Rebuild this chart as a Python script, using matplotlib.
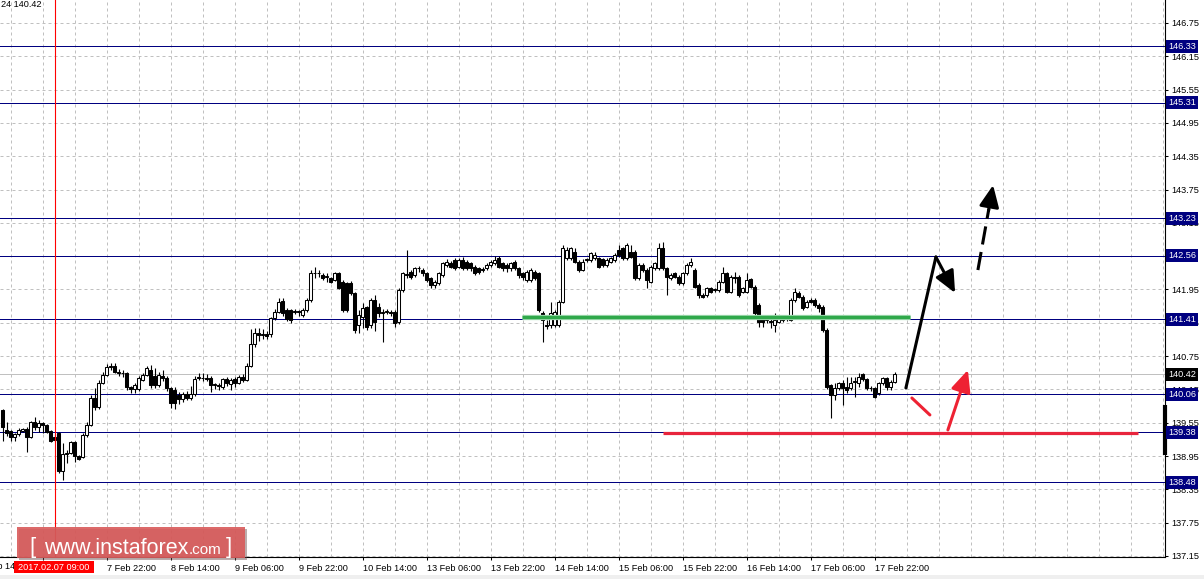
import matplotlib
matplotlib.use('Agg')
import matplotlib.pyplot as plt
import matplotlib.transforms as mtransforms
from matplotlib.patches import Rectangle
import numpy as np

plt.rcParams['font.family'] = ['Liberation Sans', 'DejaVu Sans']

# ---------------- data (H1 candles, index 0 = first visible hour) ----------------
open_ = [
    139.78, 139.42, 139.40, 139.29, 139.34, 139.40, 139.43, 139.29, 139.56, 139.47,
    139.54, 139.50, 139.40, 139.30, 139.36, 138.68, 138.99, 139.00, 139.20, 138.95,
    138.93, 139.33, 139.51, 140.00, 139.84, 140.26, 140.41, 140.55, 140.57, 140.47,
    140.44, 140.44, 140.20, 140.16, 140.16, 140.32, 140.41, 140.50, 140.40, 140.23,
    140.40, 140.36, 140.18, 140.14, 140.05, 139.97, 140.07, 139.99, 140.07, 140.36,
    140.36, 140.36, 140.36, 140.23, 140.22, 140.20, 140.33, 140.24, 140.33, 140.27,
    140.38, 140.32, 140.58, 140.97, 141.16, 141.13, 141.14, 141.14, 141.43, 141.55,
    141.74, 141.58, 141.58, 141.55, 141.55, 141.49, 141.58, 141.76, 142.24, 142.25,
    142.21, 142.18, 142.15, 142.12, 142.25, 142.09, 142.06, 142.06, 141.88, 141.31,
    141.46, 141.64, 141.31, 141.76, 141.64, 141.52, 141.55, 141.55, 141.55, 141.36,
    141.94, 142.22, 142.27, 142.21, 142.33, 142.30, 142.24, 142.15, 142.03, 142.06,
    142.21, 142.39, 142.42, 142.48, 142.36, 142.48, 142.45, 142.42, 142.36, 142.33,
    142.30, 142.33, 142.39, 142.42, 142.51, 142.42, 142.39, 142.33, 142.45, 142.33,
    142.24, 142.12, 142.12, 142.27, 142.24, 141.53, 141.31, 141.31, 141.31, 141.31,
    141.73, 142.51, 142.51, 142.63, 142.45, 142.30, 142.48, 142.48, 142.51, 142.51,
    142.49, 142.39, 142.45, 142.48, 142.66, 142.69, 142.51, 142.63, 142.63, 142.15,
    142.39, 142.30, 142.09, 142.33, 142.33, 142.69, 142.33, 142.15, 142.24, 142.18,
    142.06, 142.24, 142.39, 142.30, 142.03, 141.85, 141.85, 141.97, 141.94, 141.94,
    142.09, 142.24, 141.91, 142.18, 142.18, 141.91, 141.91, 142.13, 142.00, 141.67,
    141.43, 141.40, 141.37, 141.31, 141.37, 141.40, 141.43, 141.40, 141.76, 141.88,
    141.82, 141.64, 141.76, 141.76, 141.67, 141.64, 141.22, 140.23, 140.05, 140.17,
    140.26, 140.20, 140.17, 140.29, 140.26, 140.43, 140.34, 140.17, 140.17, 140.08,
    140.26, 140.35, 140.20, 140.29,
]
high = [
    139.80, 139.56, 139.42, 139.36, 139.45, 139.45, 139.47, 139.58, 139.65, 139.60,
    139.56, 139.52, 139.42, 139.34, 139.38, 139.18, 139.06, 139.22, 139.22, 138.97,
    139.36, 139.56, 140.05, 140.17, 140.32, 140.46, 140.60, 140.62, 140.62, 140.52,
    140.50, 140.46, 140.22, 140.26, 140.40, 140.45, 140.57, 140.59, 140.53, 140.46,
    140.50, 140.40, 140.20, 140.20, 140.10, 140.10, 140.12, 140.22, 140.39, 140.45,
    140.45, 140.42, 140.40, 140.27, 140.26, 140.36, 140.38, 140.35, 140.37, 140.41,
    140.42, 140.62, 141.23, 141.25, 141.25, 141.24, 141.20, 141.46, 141.60, 141.80,
    141.80, 141.62, 141.60, 141.60, 141.58, 141.62, 141.80, 142.30, 142.36, 142.30,
    142.24, 142.24, 142.18, 142.27, 142.27, 142.12, 142.09, 142.10, 141.90, 141.58,
    141.70, 141.66, 141.80, 141.85, 141.70, 141.60, 141.60, 141.58, 141.58, 141.97,
    142.27, 142.66, 142.30, 142.36, 142.38, 142.34, 142.27, 142.18, 142.12, 142.27,
    142.45, 142.50, 142.47, 142.52, 142.52, 142.53, 142.48, 142.45, 142.39, 142.36,
    142.36, 142.42, 142.48, 142.55, 142.56, 142.45, 142.42, 142.45, 142.48, 142.36,
    142.27, 142.30, 142.33, 142.30, 142.27, 141.56, 141.40, 141.72, 141.58, 141.76,
    142.75, 142.72, 142.72, 142.70, 142.48, 142.50, 142.52, 142.63, 142.62, 142.54,
    142.52, 142.51, 142.54, 142.61, 142.75, 142.72, 142.78, 142.75, 142.66, 142.42,
    142.42, 142.33, 142.39, 142.45, 142.78, 142.80, 142.36, 142.24, 142.27, 142.21,
    142.27, 142.42, 142.51, 142.33, 142.06, 141.88, 142.00, 142.00, 141.98, 142.12,
    142.36, 142.27, 142.21, 142.27, 142.21, 142.00, 142.24, 142.16, 142.03, 141.70,
    141.46, 141.45, 141.42, 141.52, 141.46, 141.46, 141.47, 141.80, 141.97, 141.92,
    141.85, 141.76, 141.80, 141.79, 141.70, 141.67, 141.25, 140.25, 140.26, 140.29,
    140.32, 140.38, 140.38, 140.38, 140.44, 140.45, 140.36, 140.21, 140.20, 140.29,
    140.38, 140.37, 140.32, 140.46,
]
low = [
    139.22, 139.31, 139.22, 139.22, 139.31, 139.38, 139.02, 139.28, 139.42, 139.38,
    139.36, 139.36, 139.20, 139.20, 138.64, 138.52, 138.83, 138.98, 138.85, 138.88,
    138.92, 139.30, 139.49, 139.78, 139.80, 140.24, 140.39, 140.50, 140.44, 140.40,
    140.38, 140.14, 140.08, 140.08, 140.12, 140.30, 140.39, 140.17, 140.17, 140.20,
    140.30, 140.13, 139.82, 139.80, 139.88, 139.92, 139.95, 139.95, 140.03, 140.32,
    140.30, 140.30, 140.10, 140.16, 140.14, 140.15, 140.22, 140.14, 140.20, 140.24,
    140.28, 140.30, 140.55, 140.92, 141.02, 141.05, 141.06, 141.10, 141.40, 141.52,
    141.48, 141.38, 141.35, 141.50, 141.48, 141.45, 141.55, 141.73, 142.15, 142.18,
    142.12, 142.09, 142.06, 142.10, 141.95, 141.55, 141.55, 141.85, 141.16, 141.16,
    141.25, 141.22, 141.25, 141.20, 141.45, 141.01, 141.50, 141.48, 141.28, 141.33,
    141.90, 142.15, 142.14, 142.18, 142.27, 142.20, 142.09, 141.98, 141.98, 142.03,
    142.18, 142.36, 142.33, 142.30, 142.33, 142.30, 142.30, 142.28, 142.21, 142.23,
    142.27, 142.30, 142.36, 142.39, 142.33, 142.29, 142.27, 142.29, 142.30, 142.15,
    142.12, 142.09, 142.09, 142.12, 141.55, 141.01, 141.24, 141.26, 141.28, 141.28,
    141.70, 142.48, 142.48, 142.42, 142.27, 142.28, 142.44, 142.45, 142.48, 142.33,
    142.36, 142.36, 142.42, 142.45, 142.54, 142.48, 142.48, 142.51, 142.12, 142.12,
    142.27, 141.97, 142.06, 142.30, 142.30, 142.30, 141.85, 142.12, 142.15, 142.03,
    142.03, 142.21, 142.36, 141.97, 141.79, 141.79, 141.82, 141.88, 141.90, 141.91,
    142.06, 141.88, 141.88, 142.06, 141.82, 141.88, 141.88, 141.97, 141.49, 141.28,
    141.28, 141.34, 141.25, 141.19, 141.34, 141.37, 141.38, 141.38, 141.73, 141.79,
    141.58, 141.61, 141.70, 141.64, 141.55, 141.19, 140.15, 139.63, 139.96, 140.14,
    139.87, 140.08, 140.14, 140.02, 140.20, 140.31, 140.14, 140.12, 139.99, 140.05,
    140.23, 140.14, 140.14, 140.27,
]
close = [
    139.47, 139.36, 139.29, 139.34, 139.41, 139.43, 139.29, 139.56, 139.47, 139.54,
    139.50, 139.38, 139.22, 139.24, 138.68, 138.99, 139.01, 139.20, 138.95, 138.90,
    139.33, 139.51, 140.00, 139.84, 140.26, 140.41, 140.55, 140.57, 140.46, 140.44,
    140.45, 140.19, 140.16, 140.23, 140.35, 140.41, 140.53, 140.23, 140.23, 140.41,
    140.36, 140.17, 139.91, 139.91, 139.97, 140.06, 139.99, 140.07, 140.34, 140.38,
    140.35, 140.34, 140.23, 140.24, 140.21, 140.33, 140.27, 140.32, 140.27, 140.38,
    140.32, 140.58, 140.97, 141.16, 141.13, 141.14, 141.12, 141.43, 141.55, 141.73,
    141.52, 141.41, 141.40, 141.56, 141.54, 141.58, 141.76, 142.25, 142.25, 142.24,
    142.15, 142.18, 142.09, 142.25, 141.97, 141.58, 141.58, 141.88, 141.22, 141.49,
    141.61, 141.28, 141.76, 141.37, 141.52, 141.55, 141.55, 141.52, 141.34, 141.94,
    142.24, 142.21, 142.18, 142.33, 142.33, 142.24, 142.12, 142.03, 142.09, 142.24,
    142.42, 142.45, 142.36, 142.33, 142.48, 142.33, 142.33, 142.33, 142.24, 142.27,
    142.31, 142.39, 142.45, 142.48, 142.36, 142.33, 142.33, 142.42, 142.33, 142.21,
    142.18, 142.27, 142.30, 142.15, 141.58, 141.40, 141.30, 141.52, 141.55, 141.73,
    142.70, 142.66, 142.69, 142.45, 142.30, 142.45, 142.49, 142.60, 142.57, 142.36,
    142.39, 142.48, 142.51, 142.57, 142.57, 142.51, 142.75, 142.54, 142.15, 142.39,
    142.30, 142.12, 142.36, 142.42, 142.69, 142.33, 142.18, 142.21, 142.18, 142.06,
    142.24, 142.39, 142.45, 142.00, 141.85, 141.82, 141.97, 141.91, 141.94, 142.09,
    142.24, 141.91, 142.18, 142.15, 141.85, 141.97, 142.12, 142.00, 141.52, 141.37,
    141.37, 141.40, 141.37, 141.40, 141.43, 141.43, 141.43, 141.76, 141.91, 141.82,
    141.61, 141.73, 141.73, 141.67, 141.61, 141.22, 140.20, 140.05, 140.17, 140.26,
    140.17, 140.14, 140.26, 140.29, 140.38, 140.34, 140.17, 140.17, 140.02, 140.26,
    140.35, 140.20, 140.29, 140.42,
]

tick_index = [-6, 10, 26, 42, 58, 74, 90, 106, 122, 138, 154, 170, 186, 202, 218]
tick_labels = ["6 Feb 14:00", "7 Feb 06:00", "7 Feb 22:00", "8 Feb 14:00", "9 Feb 06:00",
               "9 Feb 22:00", "10 Feb 14:00", "13 Feb 06:00", "13 Feb 22:00", "14 Feb 14:00",
               "15 Feb 06:00", "15 Feb 22:00", "16 Feb 14:00", "17 Feb 06:00", "17 Feb 22:00"]
price_ticks = [146.75, 146.15, 145.55, 144.95, 144.35, 143.75, 143.15, 142.55, 141.95,
               141.35, 140.75, 140.15, 139.55, 138.95, 138.35, 137.75, 137.15]
hidden_price_tick = 142.55  # fully covered by the 142.56 level box
levels = [146.33, 145.31, 143.23, 142.56, 141.41, 140.06, 139.38, 138.48]
bid_price = 140.42
cursor_index = 13
cursor_label = "2017.02.07 09:00"
header_text = "24 140.42"

# analyst markup: (candle index, price)
green_line = [(129.8, 141.45), (226.8, 141.45)]
red_line = [(165.1, 139.36), (283.8, 139.36)]
black_path = [(225.8, 140.175), (233.3, 142.535)]
black_arrow = [(233.3, 142.535), (238.1, 141.887)]
dashed_arrow = [(243.8, 142.30), (247.6, 143.83)]
red_stroke = [(227.3, 139.995), (231.8, 139.69)]
red_arrow = [(236.3, 139.42), (241.3, 140.50)]
range_bar = (139.87, 138.97)

# ---------------- figure ----------------
W, H = 1204, 579
XLIM = (-0.675, 290.575)
YLIM = (137.131, 147.164)
PX = 0.72  # one pixel in points at 100 dpi
fig = plt.figure(figsize=(W / 100, H / 100), dpi=100)
fig.patch.set_facecolor('white')
ax = fig.add_axes([0, 22 / H, 1165 / W, 557 / H])
ax.set_facecolor('white')

grid_kw = dict(color='#c0c0c0', lw=PX, ls=(0, (3, 3)), zorder=1, snap=True)
for p in price_ticks:
    ax.axhline(p, **grid_kw)
for gx in range(2, 291, 8):
    ax.axvline(gx, **grid_kw)

ax.axhline(bid_price, color='#c0c0c0', lw=PX, zorder=1.5, snap=True)
for p in levels:
    ax.axhline(p, color='#000080', lw=PX, zorder=2, snap=True)

# candles
o = np.array(open_); h = np.array(high); l = np.array(low); c = np.array(close)
x = np.arange(len(c))
up = c >= o
ax.vlines(x, l, h, color='black', lw=0.8, zorder=3)
bottom = np.minimum(o, c)
height = np.maximum(np.abs(c - o), 0.014)
ax.bar(x[up], height[up], bottom=bottom[up], width=0.7, color='white',
       edgecolor='black', lw=0.75, zorder=4)
ax.bar(x[~up], height[~up], bottom=bottom[~up], width=0.7, color='black',
       edgecolor='black', lw=0.75, zorder=4)

ax.axvline(cursor_index, color='#ff0000', lw=0.8, zorder=5)

# markup
(gx0, gy0), (gx1, gy1) = green_line
ax.plot([gx0, gx1], [gy0, gy1], color='#a6dcb4', lw=3.8, solid_capstyle='butt', zorder=6)
ax.plot([gx0, gx1], [gy0, gy1], color='#2fa84a', lw=2.4, solid_capstyle='butt', zorder=6)
(rx0, ry0), (rx1, ry1) = red_line
ax.plot([rx0, rx1], [ry0, ry1], color='#e8243c', lw=2.3, solid_capstyle='butt', zorder=6)

ax.plot(*zip(*black_path), color='black', lw=2.2, solid_capstyle='round', zorder=7)
head = '-|>,head_length=0.55,head_width=0.25'
ax.annotate('', xy=black_arrow[1], xytext=black_arrow[0],
            arrowprops=dict(arrowstyle=head, lw=2.2, color='black', mutation_scale=24,
                            shrinkA=0, shrinkB=0), zorder=7)
(dx0, dy0), (dx1, dy1) = dashed_arrow
ax.plot([dx0, dx0 + (dx1 - dx0) * 0.72], [dy0, dy0 + (dy1 - dy0) * 0.72], color='black',
        lw=2.2, ls=(0, (6, 2.5)), zorder=7)
ax.annotate('', xy=(dx1, dy1), xytext=(dx0 + (dx1 - dx0) * 0.7, dy0 + (dy1 - dy0) * 0.7),
            arrowprops=dict(arrowstyle=head, lw=2.2, color='black', mutation_scale=24,
                            shrinkA=0, shrinkB=0), zorder=7)
ax.plot(*zip(*red_stroke), color='#ee2233', lw=2.2, solid_capstyle='round', zorder=7)
ax.annotate('', xy=red_arrow[1], xytext=red_arrow[0],
            arrowprops=dict(arrowstyle=head, lw=2.2, color='#ee2233', mutation_scale=24,
                            shrinkA=0, shrinkB=0), zorder=7)

# axes styling
for s in ['left', 'top']:
    ax.spines[s].set_visible(False)
for s in ['right', 'bottom']:
    ax.spines[s].set_linewidth(0.8)
    ax.spines[s].set_color('black')
ax.yaxis.tick_right()
ax.set_yticks(price_ticks)
ax.set_yticklabels(['' if p == hidden_price_tick else f'{p:.2f}' for p in price_ticks])
ax.set_xticks(tick_index[1:])
ax.set_xticklabels(tick_labels[1:])
ax.set_xlim(*XLIM)
ax.set_ylim(*YLIM)
ax.tick_params(axis='y', direction='out', length=2.3, width=0.75, pad=2.6, labelsize=6.6)
ax.tick_params(axis='x', direction='out', length=2.3, width=0.75, pad=2.6, labelsize=6.6)
for lbl in ax.get_xticklabels():
    lbl.set_ha('left')

trans = mtransforms.blended_transform_factory(ax.transAxes, ax.transData)
for p in levels:
    ax.text(1.0029, p, f'{p:.2f}', transform=trans, ha='left', va='center', fontsize=6.6,
            color='white', zorder=20, clip_on=False,
            bbox=dict(boxstyle='square,pad=0.22', fc='#000080', ec='none'))
ax.text(1.0029, bid_price, f'{bid_price:.2f}', transform=trans, ha='left', va='center',
        fontsize=6.6, color='white', zorder=20, clip_on=False,
        bbox=dict(boxstyle='square,pad=0.22', fc='black', ec='none'))
ax.plot([1.0, 1.0], list(range_bar), transform=trans, color='black', lw=3,
        solid_capstyle='butt', clip_on=False, zorder=15)

# first time label, clipped by the left edge of the picture
xtrans = mtransforms.blended_transform_factory(ax.transData, fig.transFigure)
ax.text(tick_index[0], 1 - 566.5 / H, tick_labels[0], transform=xtrans, ha='left',
        va='center', fontsize=6.6, clip_on=False)

ax.text(0.0005, 1 - 4.5 / 557, header_text, transform=ax.transAxes, ha='left', va='center',
        fontsize=6.6, zorder=20)

# bottom gray strip
fig.patches.append(Rectangle((0, 0), 1, 4 / H, transform=fig.transFigure,
                             fc='#efefef', ec='none', zorder=1))

# cursor date box
fig.patches.append(Rectangle((14 / W, 1 - 573 / H), 80 / W, 12 / H, transform=fig.transFigure,
                             fc='#ff0000', ec='none', zorder=40))
fig.text(54 / W, 1 - 567 / H, cursor_label, ha='center', va='center', fontsize=6.6,
         color='white', zorder=41)

# watermark
fig.patches.append(Rectangle((19 / W, 1 - 560 / H), 228 / W, 31 / H, transform=fig.transFigure,
                             fc='#6a4a4a', alpha=0.45, ec='none', zorder=30))
fig.patches.append(Rectangle((17 / W, 1 - 558 / H), 228 / W, 31 / H, transform=fig.transFigure,
                             fc='#d95a5a', alpha=0.9, ec='none', zorder=31))
base_y = 1 - 553.5 / H
fig.text(29 / W, base_y, '[', fontsize=16, color='white', va='baseline', zorder=32)
t1 = fig.text(44 / W, base_y, 'www.instaforex', fontsize=15.5, color='white',
              va='baseline', zorder=32)
fig.canvas.draw()
r = fig.canvas.get_renderer()
bb = t1.get_window_extent(renderer=r)
t2 = fig.text((bb.x1 + 0.5) / W, base_y, '.com', fontsize=11, color='white', va='baseline',
              zorder=32)
bb2 = t2.get_window_extent(renderer=r)
fig.text((bb2.x1 + 4) / W, base_y, ']', fontsize=16, color='white', va='baseline', zorder=32)

fig.savefig('out.png', dpi=100)
